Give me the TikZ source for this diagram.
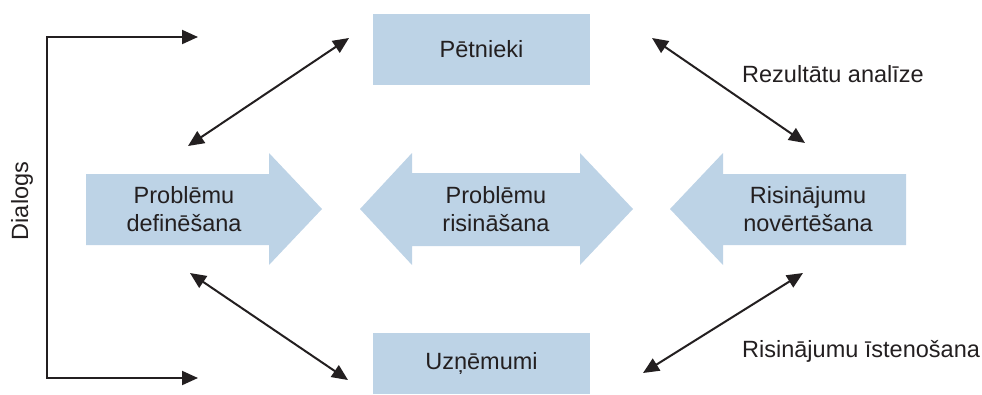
\documentclass[tikz,border=0pt]{standalone}
\usepackage{fontspec}
\setmainfont{Liberation Sans}
\usepackage{tikz}
\usetikzlibrary{arrows.meta}
\definecolor{boxblue}{HTML}{BDD3E6}
\definecolor{ink}{HTML}{231F20}

\begin{document}
\begin{tikzpicture}[x=1pt, y=-1pt, font=\fontsize{23.5}{28}\selectfont, text=ink, main/.style = {fill=boxblue, minimum width=217pt, inner sep=0pt}, txt/.style = {align=center, inner sep=0pt}, link/.style = {draw=ink, line width=2pt, {Triangle[length=16pt,width=14pt]}-{Triangle[length=16pt,width=14pt]}}]
                \useasboundingbox (0,0) rectangle (982,394);
                % big arrows
                \fill[boxblue] (86,174) -- (269,174) -- (269,153) -- (322,209) -- (269,265) -- (269,245) -- (86,245) -- cycle;
                \fill[boxblue] (360,209) -- (412,153) -- (412,173) -- (580,173) -- (580,153) -- (633,209) -- (580,265) -- (580,246) -- (412,246) -- (412,265) -- cycle;
                \fill[boxblue] (670,209) -- (723,153) -- (723,174) -- (906,174) -- (906,245) -- (723,245) -- (723,265) -- cycle;
                \node[txt] (def) at (184,209) {Problēmu\\definēšana};
                \node[txt] (ris) at (496,209) {Problēmu\\risināšana};
                \node[txt] (nov) at (808,209) {Risinājumu\\novērtēšana};
                % boxes
                \node[main, minimum height=71pt] (pet) at (481.5,49.5) {Pētnieki};
                \node[main, minimum height=61pt] (uzn) at (481.5,363.5) {Uzņēmumi};
                % arrow ends
                \coordinate (a1) at (188,146);
                \coordinate (a2) at (349,38);
                \coordinate (b1) at (652,38);
                \coordinate (b2) at (805,143);
                \coordinate (c1) at (190,273);
                \coordinate (c2) at (348,380);
                \coordinate (d1) at (803,273);
                \coordinate (d2) at (643,373);
                \coordinate (t1) at (198,37);
                \coordinate (k1) at (47,37);
                \coordinate (k2) at (47,378);
                \coordinate (t2) at (198,378);
                \draw[link] (a1) -- (a2);
                \draw[link] (b1) -- (b2);
                \draw[link] (c1) -- (c2);
                \draw[link] (d1) -- (d2);
                \draw[link] (t1) -- (k1) -- (k2) -- (t2);
                % labels
                \node[txt, anchor=base west] (rez) at (742,82) {Rezultātu analīze};
                \node[txt, anchor=base west] (ist) at (742,357) {Risinājumu īstenošana};
                \node[txt, rotate=90, anchor=base] (dia) at (28,201) {Dialogs};
            \end{tikzpicture}
\end{document}
